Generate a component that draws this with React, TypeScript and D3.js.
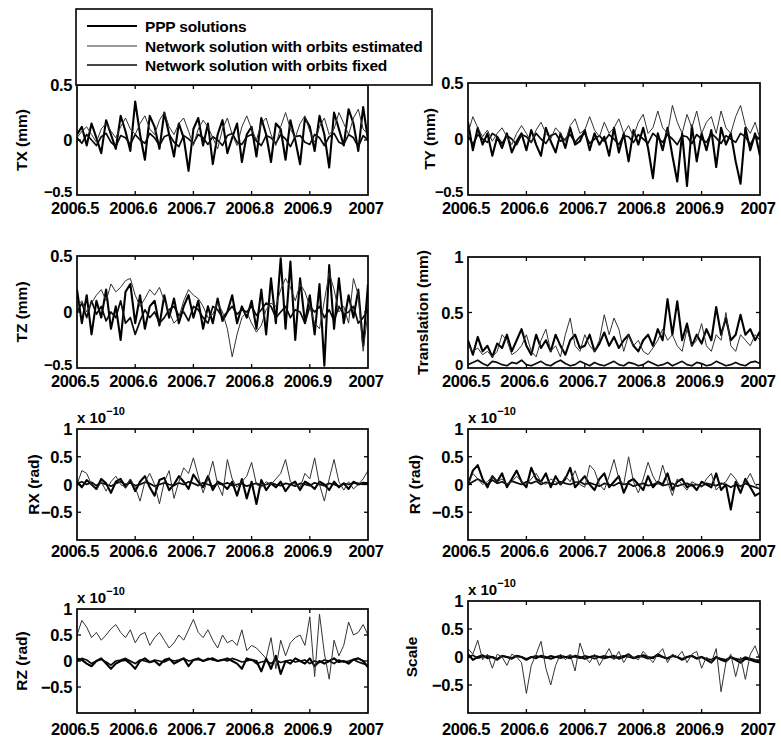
import React from 'react';
import * as d3 from 'd3';

// Epochs every 3 days over the second half of 2006
const N = 61;
const EPOCHS = d3.range(N).map((i) => 2006.5 + (i * 0.5) / (N - 1));

const X_TICKS = [2006.5, 2006.6, 2006.7, 2006.8, 2006.9, 2007];
const X_TICK_LABELS = ['2006.5', '2006.6', '2006.7', '2006.8', '2006.9', '2007'];

const SERIES_NAMES = [
  'PPP solutions',
  'Network solution with orbits estimated',
  'Network solution with orbits fixed',
];

// ---- Translation X (mm) ----
const TX_PPP = [
  0.05, 0.12, -0.05, 0.15, 0.02, -0.12, 0.18, 0.05, -0.08, 0.22,
  0.08, -0.1, 0.35, 0.05, -0.18, 0.22, 0.12, -0.08, 0.25, 0.05,
  -0.15, 0.15, 0.02, -0.28, 0.1, 0.2, -0.05, 0.15, -0.22, 0.05,
  0.18, -0.12, 0.02, 0.15, -0.2, 0.05, 0.12, -0.15, 0.2, 0.05,
  -0.2, 0.15, 0.1, -0.18, 0.18, 0.0, -0.22, 0.2, 0.12, -0.1,
  0.22, 0.05, -0.25, 0.25, 0.1, -0.05, 0.28, 0.15, -0.1, 0.3,
  0.0,
];
const TX_EST = [
  0.02, 0.08, 0.12, 0.05, -0.02, 0.1, 0.15, 0.08, 0.02, 0.12,
  0.2, 0.1, 0.05, 0.15, 0.22, 0.1, 0.05, 0.18, 0.25, 0.12,
  0.05, 0.15, 0.2, 0.08, -0.05, 0.1, 0.18, 0.12, 0.02, -0.08,
  0.1, 0.2, 0.05, -0.05, 0.12, 0.22, 0.1, 0.0, 0.15, 0.2,
  0.05, -0.05, 0.12, 0.25, 0.1, 0.02, 0.15, 0.22, 0.08, -0.02,
  0.12, 0.2, 0.05, 0.1, 0.25, 0.15, 0.05, 0.2, 0.28, 0.1,
  0.05,
];
const TX_FIX = [
  0.02, -0.03, 0.05, 0.0, -0.05, 0.03, 0.06, -0.02, -0.06, 0.04,
  0.02, -0.04, 0.05, 0.0, -0.03, 0.06, 0.02, -0.05, 0.03, 0.05,
  -0.02, -0.06, 0.04, 0.01, -0.03, 0.05, 0.02, -0.04, 0.03, 0.0,
  -0.05, 0.04, 0.06, -0.02, -0.04, 0.03, 0.05, -0.01, -0.05, 0.04,
  0.02, -0.03, 0.05, 0.01, -0.06, 0.03, 0.04, -0.02, -0.04, 0.05,
  0.02, -0.05, 0.03, 0.06, -0.02, -0.04, 0.05, 0.02, -0.06, 0.04,
  0.0,
];

// ---- Translation Y (mm) ----
const TY_PPP = [
  0.15, -0.1, 0.1, -0.05, 0.05, -0.15, 0.02, -0.08, 0.05, -0.12,
  -0.02, 0.05, -0.1, 0.08, -0.05, -0.15, 0.1, -0.02, -0.12, 0.05,
  -0.08, 0.1, -0.05, -0.02, 0.08, -0.1, 0.05, -0.05, 0.02, -0.15,
  0.1, -0.12, 0.05, -0.2, 0.08, -0.05, 0.1, -0.08, -0.35, 0.05,
  -0.1, 0.1, -0.15, -0.38, 0.05, -0.42, 0.12, -0.2, 0.05, -0.1,
  0.08, -0.25, 0.1, -0.05, 0.05, -0.2, -0.4, 0.1, -0.1, 0.05,
  -0.15,
];
const TY_EST = [
  0.05, 0.2, 0.1, 0.02, 0.08, -0.02, 0.05, 0.1, 0.02, -0.05,
  0.05, 0.12, 0.05, -0.03, 0.08, 0.15, 0.05, 0.0, 0.1, 0.05,
  -0.02, 0.12, 0.18, 0.05, 0.08, 0.2, 0.08, 0.02, 0.15, 0.05,
  0.1, 0.18, 0.05, 0.12, 0.02, 0.15, 0.22, 0.05, 0.1, 0.25,
  0.1, 0.05, 0.3, 0.15, 0.05, 0.22, 0.1, 0.25, 0.05, 0.15,
  0.2, 0.05, 0.25, 0.1, 0.05, 0.2, 0.3, 0.12, 0.05, 0.15,
  0.0,
];
const TY_FIX = [
  0.03, -0.05, 0.04, 0.0, -0.03, 0.05, 0.02, -0.04, 0.03, 0.0,
  -0.05, 0.04, 0.02, -0.03, 0.05, 0.0, -0.04, 0.03, 0.05, -0.02,
  0.0, 0.04, -0.03, 0.02, 0.05, -0.04, 0.0, 0.03, -0.02, 0.04,
  0.0, -0.05, 0.03, 0.02, -0.03, 0.04, 0.0, -0.04, 0.05, 0.01,
  -0.03, 0.04, 0.0, -0.05, 0.03, 0.02, -0.04, 0.04, 0.0, -0.03,
  0.05, 0.01, -0.04, 0.03, 0.0, -0.03, 0.05, 0.02, -0.05, 0.03,
  0.0,
];

// ---- Translation Z (mm) ----
const TZ_PPP = [
  0.2, -0.1, 0.15, -0.2, 0.1, -0.05, 0.2, -0.15, 0.05, -0.25,
  0.18, 0.25, -0.1, 0.15, -0.15, 0.05, 0.1, -0.12, 0.15, -0.05,
  0.12, -0.1, 0.05, 0.15, -0.05, 0.1, -0.15, 0.05, -0.1, 0.12,
  -0.08, 0.0, 0.15, -0.1, 0.05, -0.05, 0.1, -0.15, 0.2, -0.2,
  0.3, -0.1, 0.48, -0.15, 0.45, -0.25, 0.3, -0.1, 0.15, -0.2,
  0.25, -0.48, 0.42, -0.15, 0.3, -0.1, 0.15, -0.05, 0.2, -0.3,
  0.25,
];
const TZ_EST = [
  0.05, 0.1, 0.0, 0.08, 0.15, 0.2, 0.1, 0.25, 0.18, 0.22,
  0.28, 0.3, 0.15, 0.05, 0.12, 0.2, 0.15, 0.22, 0.1, 0.0,
  -0.1, -0.05, 0.1, 0.2, 0.15, 0.12, 0.05, -0.05, -0.02, 0.08,
  0.0, -0.15, -0.4, -0.2, -0.05, 0.0, -0.1, -0.18, -0.12, 0.02,
  0.08, 0.05, 0.2, 0.3, 0.22, 0.1, 0.25, 0.18, 0.05, -0.1,
  -0.15, 0.1, 0.35, 0.2, 0.0, 0.05, -0.1, 0.3, 0.15, -0.35,
  0.0,
];
const TZ_FIX = [
  0.0, 0.08, -0.05, 0.1, -0.02, 0.05, -0.08, 0.0, -0.05, 0.1,
  -0.1, -0.05, -0.2, -0.08, 0.02, -0.05, 0.0, -0.1, -0.05, 0.02,
  0.05, -0.03, 0.0, -0.08, 0.05, 0.02, -0.05, -0.1, 0.05, 0.02,
  -0.05, 0.0, 0.05, -0.02, 0.02, 0.0, 0.05, -0.03, 0.02, 0.08,
  0.05, -0.05, 0.0, 0.05, -0.05, 0.02, 0.0, -0.1, 0.05, 0.0,
  0.05, -0.05, 0.02, -0.08, 0.05, -0.02, 0.0, 0.05, -0.1, -0.05,
  0.02,
];

// ---- Total translation (mm) ----
const TR_PPP = [
  0.25, 0.12, 0.28, 0.15, 0.2, 0.1, 0.22, 0.18, 0.3, 0.15,
  0.25, 0.35, 0.2, 0.12, 0.3, 0.18, 0.25, 0.15, 0.3, 0.2,
  0.12, 0.25, 0.3, 0.18, 0.2, 0.3, 0.15, 0.22, 0.32, 0.2,
  0.28, 0.18, 0.25, 0.3, 0.2, 0.15, 0.25, 0.3, 0.2, 0.35,
  0.25, 0.62, 0.3, 0.6, 0.25, 0.4, 0.2, 0.3, 0.22, 0.35,
  0.25, 0.55, 0.3, 0.45, 0.25, 0.3, 0.48, 0.3, 0.35, 0.25,
  0.33,
];
const TR_EST = [
  0.2, 0.15, 0.18, 0.12, 0.15, 0.1, 0.15, 0.3, 0.25, 0.12,
  0.15, 0.2, 0.3, 0.15, 0.1, 0.25, 0.35, 0.15, 0.2, 0.1,
  0.3, 0.45, 0.2, 0.15, 0.3, 0.2, 0.15, 0.25, 0.48, 0.3,
  0.45, 0.35, 0.15, 0.3, 0.2, 0.25, 0.15, 0.12, 0.18, 0.25,
  0.35, 0.25, 0.3, 0.2, 0.15, 0.35, 0.2, 0.25, 0.4, 0.2,
  0.15, 0.3, 0.25, 0.5, 0.2, 0.15, 0.3, 0.25, 0.2, 0.3,
  0.25,
];
const TR_FIX = [
  0.03, 0.05, 0.07, 0.04, 0.02, 0.06, 0.05, 0.03, 0.02, 0.05,
  0.04, 0.07, 0.03, 0.02, 0.04, 0.06, 0.03, 0.02, 0.05, 0.07,
  0.04, 0.02, 0.03, 0.06, 0.04, 0.02, 0.05, 0.03, 0.02, 0.04,
  0.06, 0.03, 0.02, 0.05, 0.04, 0.02, 0.03, 0.06, 0.04, 0.02,
  0.03, 0.05, 0.02, 0.04, 0.06, 0.03, 0.02, 0.05, 0.04, 0.02,
  0.03, 0.06, 0.04, 0.02, 0.03, 0.05, 0.03, 0.02, 0.05, 0.06,
  0.04,
];

// ---- Rotation X (1e-10 rad) ----
const RX_PPP = [
  0.05, -0.05, 0.08, 0.0, -0.08, 0.1, 0.02, -0.15, 0.05, 0.1,
  -0.05, 0.08, -0.12, 0.05, 0.15, -0.05, -0.2, 0.08, 0.12, -0.1,
  0.0, 0.15, 0.05, -0.08, 0.18, 0.05, -0.05, 0.15, -0.1, 0.05,
  0.0, -0.08, 0.05, -0.2, 0.1, -0.25, 0.05, -0.35, 0.08, -0.1,
  0.02, -0.05, 0.05, -0.12, 0.0, 0.05, -0.1, 0.05, 0.0, -0.08,
  0.05, 0.0, -0.1, 0.05, -0.05, 0.02, -0.08, 0.05, 0.0, 0.03,
  0.02,
];
const RX_EST = [
  0.0, 0.25, 0.2, 0.0, -0.1, 0.05, -0.12, 0.05, 0.15, 0.0,
  -0.05, 0.1, -0.05, -0.3, 0.05, 0.2, 0.0, -0.35, 0.05, 0.25,
  -0.25, 0.05, 0.3, 0.2, 0.48, 0.15, -0.15, 0.1, 0.42, 0.0,
  -0.2, 0.45, 0.1, -0.05, 0.05, 0.15, 0.4, 0.0, -0.05, 0.05,
  0.0, 0.1, 0.2, 0.45, 0.05, 0.0, -0.05, 0.2, 0.1, 0.48,
  0.0, -0.3, 0.1, 0.45, 0.05, -0.1, 0.05, -0.08, 0.0, 0.1,
  0.25,
];
const RX_FIX = [
  0.02, 0.05, 0.0, 0.04, -0.02, 0.03, 0.0, -0.03, 0.02, 0.05,
  0.0, 0.03, -0.02, 0.0, 0.04, 0.02, -0.03, 0.0, 0.03, 0.0,
  -0.02, 0.03, 0.0, 0.05, 0.02, -0.02, 0.03, 0.0, -0.03, 0.02,
  0.0, 0.03, -0.02, 0.0, 0.02, -0.03, 0.0, 0.02, -0.02, 0.0,
  0.03, 0.0, -0.02, 0.02, 0.0, -0.03, 0.02, 0.0, -0.02, 0.03,
  0.0, -0.02, 0.02, 0.0, -0.03, 0.02, 0.0, 0.03, 0.02, 0.0,
  0.03,
];

// ---- Rotation Y (1e-10 rad) ----
const RY_PPP = [
  0.0, 0.25, 0.35, 0.1, -0.05, 0.15, 0.05, 0.2, -0.05, 0.1,
  0.25, 0.05, -0.05, 0.3, 0.1, 0.05, 0.2, -0.05, 0.15, 0.0,
  0.1, 0.3, -0.05, 0.05, 0.15, 0.0, -0.1, 0.1, 0.2, -0.05,
  0.05, 0.15, -0.15, 0.05, 0.1, 0.0, -0.1, 0.15, -0.05, 0.05,
  0.0, 0.2, -0.1, 0.05, 0.1, -0.05, 0.0, -0.1, 0.05, 0.0,
  -0.05, 0.2, -0.1, 0.0, -0.45, 0.05, -0.15, 0.1, -0.05, -0.2,
  -0.15,
];
const RY_EST = [
  0.0, 0.2, 0.1, 0.0, 0.05, 0.15, 0.05, 0.1, 0.0, 0.05,
  0.15, 0.05, 0.0, 0.1, 0.2, 0.05, 0.0, 0.1, 0.05, 0.0,
  0.15, 0.05, 0.25, 0.0, -0.05, 0.35, 0.25, 0.0, -0.1, 0.15,
  0.45, 0.1, 0.0, 0.5, 0.05, -0.15, 0.1, 0.4, 0.15, 0.0,
  0.35, 0.05, -0.2, 0.1, 0.0, -0.1, 0.05, 0.0, -0.05, 0.1,
  0.2, -0.1, 0.0, 0.05, 0.2, 0.1, -0.05, 0.05, 0.2, 0.0,
  -0.1,
];
const RY_FIX = [
  0.0, 0.05, 0.1, 0.05, 0.0, 0.08, 0.02, 0.05, 0.0, 0.06,
  0.03, 0.0, 0.05, 0.02, 0.06, 0.0, 0.04, 0.02, 0.0, 0.05,
  0.02, 0.0, 0.04, 0.05, 0.0, 0.03, 0.0, -0.03, 0.02, 0.0,
  -0.02, 0.03, 0.0, 0.02, -0.03, 0.0, 0.02, -0.02, 0.0, 0.03,
  -0.02, 0.0, 0.02, -0.03, 0.0, 0.02, -0.02, 0.0, -0.03, 0.02,
  0.0, -0.02, 0.02, 0.0, -0.05, 0.0, -0.03, 0.02, -0.02, -0.05,
  -0.08,
];

// ---- Rotation Z (1e-10 rad) ----
const RZ_PPP = [
  0.05, 0.02, -0.05, -0.1, 0.0, 0.05, -0.05, -0.15, -0.05, 0.0,
  0.02, -0.05, -0.15, 0.0, 0.05, -0.02, 0.0, -0.08, 0.02, 0.05,
  -0.05, 0.0, 0.05, -0.1, 0.02, 0.05, 0.0, 0.03, 0.05, 0.0,
  0.02, 0.05, 0.0, -0.05, -0.15, 0.05, 0.02, 0.0, -0.2, 0.05,
  -0.15, 0.1, -0.25, 0.0, -0.05, 0.05, 0.0, -0.05, 0.05, -0.1,
  0.0, -0.05, 0.0, 0.05, -0.02, 0.0, -0.05, 0.03, 0.05, 0.0,
  -0.12,
];
const RZ_EST = [
  0.5, 0.78, 0.65, 0.45, 0.55, 0.4, 0.5, 0.62, 0.7, 0.55,
  0.45, 0.6, 0.35, 0.5, 0.55, 0.3, 0.45, 0.55, 0.4, 0.25,
  0.35, 0.5, 0.4, 0.6, 0.8, 0.55, 0.45, 0.6, 0.4, 0.25,
  0.5, 0.35, 0.4, 0.3, 0.6, 0.2, 0.3, 0.25, 0.15, 0.05,
  0.45, -0.15, 0.4, 0.1, 0.35, 0.45, 0.5, 0.3, 0.85, -0.3,
  0.9, 0.15, -0.35, 0.4, 0.1, 0.3, 0.75, 0.5, 0.55, 0.7,
  0.5,
];
const RZ_FIX = [
  0.0, 0.05, 0.02, -0.05, 0.0, 0.03, -0.02, -0.08, 0.0, 0.02,
  0.05, 0.0, -0.05, 0.02, 0.0, -0.03, 0.02, 0.0, -0.02, 0.03,
  0.0, 0.02, 0.05, 0.0, 0.02, 0.03, 0.0, 0.05, 0.02, 0.0,
  0.03, 0.0, 0.05, 0.02, -0.02, 0.0, 0.03, -0.05, -0.02, 0.0,
  -0.05, 0.02, -0.03, 0.0, 0.02, -0.02, 0.0, 0.02, -0.05, 0.0,
  -0.03, 0.02, 0.0, -0.05, 0.02, -0.02, 0.0, 0.03, -0.02, -0.05,
  -0.08,
];

// ---- Scale (1e-10) ----
const SC_PPP = [
  0.05, -0.05, 0.0, 0.03, -0.02, 0.0, -0.05, 0.02, 0.0, -0.03,
  0.02, 0.0, -0.05, 0.0, -0.02, 0.02, 0.0, -0.03, 0.0, 0.02,
  0.0, -0.02, 0.02, 0.0, -0.03, 0.0, 0.02, 0.0, -0.02, 0.0,
  0.02, -0.03, 0.0, 0.05, -0.02, 0.0, 0.03, 0.0, -0.02, 0.05,
  0.0, -0.03, 0.02, 0.0, -0.05, 0.0, 0.02, -0.03, 0.0, -0.05,
  -0.1, 0.0, -0.05, -0.08, 0.0, -0.05, -0.1, -0.03, -0.05, -0.08,
  -0.1,
];
const SC_EST = [
  0.15, 0.05, 0.3, -0.05, 0.05, -0.2, 0.05, 0.0, -0.15, 0.05,
  0.0, -0.1, -0.65, -0.15, 0.05, 0.28, -0.2, -0.5, -0.15, 0.05,
  -0.05, 0.05, -0.25, 0.25, 0.0, -0.1, 0.05, -0.15, 0.0, 0.15,
  -0.05, 0.1, -0.1, 0.05, 0.0, -0.05, 0.1, 0.0, -0.1, 0.05,
  0.15, -0.1, 0.05, 0.0, 0.1, -0.1, 0.05, 0.1, -0.2, 0.0,
  -0.1, 0.15, -0.62, -0.1, 0.05, -0.35, 0.0, -0.4, 0.05, 0.2,
  -0.05,
];
const SC_FIX = [
  0.0, 0.03, -0.02, 0.0, 0.02, 0.0, -0.03, 0.02, 0.0, -0.02,
  0.02, 0.0, -0.03, 0.0, 0.02, 0.0, -0.02, 0.02, 0.0, -0.02,
  0.0, 0.02, 0.0, -0.02, 0.02, 0.0, -0.03, 0.0, 0.02, 0.0,
  -0.02, 0.0, 0.02, 0.0, -0.02, 0.02, 0.0, -0.03, 0.0, 0.02,
  0.0, -0.02, 0.02, 0.0, -0.03, 0.0, 0.02, -0.02, 0.0, -0.03,
  -0.05, 0.0, -0.03, -0.05, 0.0, -0.03, -0.05, 0.0, -0.03, -0.05,
  -0.06,
];

const MM_TICKS = [-0.5, 0, 0.5];
const TRANS_TICKS = [0, 0.5, 1];
const ROT_TICKS = [-0.5, 0, 0.5, 1];

const FONT = '"Liberation Sans", Arial, Helvetica, sans-serif';

// line styles for the three solution types (PPP, orbits estimated, orbits fixed)
const LINE_STYLES = [
  { stroke: '#000', width: 2.1 },
  { stroke: '#333', width: 1.0 },
  { stroke: '#0a0a0a', width: 1.7 },
];
const DRAW_ORDER = [0, 2, 1];

const COLS = [
  { x0: 77, x1: 368 },
  { x0: 468, x1: 760 },
];

type Panel = {
  id: string;
  ylabel: string;
  series: number[][];
  yDomain: [number, number];
  ticks: number[];
  col: number;
  top: number;
  bottom: number;
  ylabelX: number;
  xLabelY: number;
  exponent: boolean;
};

const PANELS: Panel[] = [
  { id: 'tx', ylabel: 'TX (mm)', series: [TX_PPP, TX_EST, TX_FIX], yDomain: [-0.5, 0.5], ticks: MM_TICKS, col: 0, top: 85, bottom: 195, ylabelX: 21, xLabelY: 214, exponent: false },
  { id: 'ty', ylabel: 'TY (mm)', series: [TY_PPP, TY_EST, TY_FIX], yDomain: [-0.5, 0.5], ticks: MM_TICKS, col: 1, top: 83, bottom: 195, ylabelX: 429, xLabelY: 214, exponent: false },
  { id: 'tz', ylabel: 'TZ (mm)', series: [TZ_PPP, TZ_EST, TZ_FIX], yDomain: [-0.5, 0.5], ticks: MM_TICKS, col: 0, top: 256, bottom: 368, ylabelX: 21, xLabelY: 387, exponent: false },
  { id: 'tr', ylabel: 'Translation (mm)', series: [TR_PPP, TR_EST, TR_FIX], yDomain: [0, 1], ticks: TRANS_TICKS, col: 1, top: 257, bottom: 368, ylabelX: 422, xLabelY: 387, exponent: false },
  { id: 'rx', ylabel: 'RX (rad)', series: [RX_PPP, RX_EST, RX_FIX], yDomain: [-1, 1], ticks: ROT_TICKS, col: 0, top: 429, bottom: 540, ylabelX: 33, xLabelY: 557, exponent: true },
  { id: 'ry', ylabel: 'RY (rad)', series: [RY_PPP, RY_EST, RY_FIX], yDomain: [-1, 1], ticks: ROT_TICKS, col: 1, top: 429, bottom: 540, ylabelX: 414, xLabelY: 557, exponent: true },
  { id: 'rz', ylabel: 'RZ (rad)', series: [RZ_PPP, RZ_EST, RZ_FIX], yDomain: [-1, 1], ticks: ROT_TICKS, col: 0, top: 609, bottom: 713, ylabelX: 21, xLabelY: 735, exponent: true },
  { id: 'sc', ylabel: 'Scale', series: [SC_PPP, SC_EST, SC_FIX], yDomain: [-1, 1], ticks: ROT_TICKS, col: 1, top: 601, bottom: 713, ylabelX: 411, xLabelY: 735, exponent: true },
];

const fmt = (v: number) => (v < 0 ? '\u2212' + String(-v) : String(v));

function PanelView({ p }: { p: Panel }) {
  const { x0, x1 } = COLS[p.col];
  const x = d3.scaleLinear().domain([2006.5, 2007]).range([x0, x1]);
  const y = d3.scaleLinear().domain(p.yDomain).range([p.bottom, p.top]);
  const line = d3
    .line<number>()
    .x((_, i) => x(EPOCHS[i]))
    .y((d) => y(d));
  const tickLen = 4;
  const clipId = `clip-${p.id}`;
  const inner = X_TICKS.slice(1, -1);
  const innerY = p.ticks.filter((t) => t > p.yDomain[0] && t < p.yDomain[1]);
  return (
    <g>
      <defs>
        <clipPath id={clipId}>
          <rect x={x0} y={p.top} width={x1 - x0} height={p.bottom - p.top} />
        </clipPath>
      </defs>
      <g clipPath={`url(#${clipId})`}>
        {DRAW_ORDER.map((k) => (
          <path
            key={k}
            d={line(p.series[k]) || ''}
            fill="none"
            stroke={LINE_STYLES[k].stroke}
            strokeWidth={LINE_STYLES[k].width}
            strokeLinejoin="round"
          />
        ))}
      </g>
      {/* inward ticks on all four sides */}
      {inner.map((t) => (
        <g key={'xt' + t}>
          <line x1={x(t)} x2={x(t)} y1={p.bottom} y2={p.bottom - tickLen} stroke="#000" strokeWidth={1.3} />
          <line x1={x(t)} x2={x(t)} y1={p.top} y2={p.top + tickLen} stroke="#000" strokeWidth={1.3} />
        </g>
      ))}
      {innerY.map((t) => (
        <g key={'yt' + t}>
          <line x1={x0} x2={x0 + tickLen} y1={y(t)} y2={y(t)} stroke="#000" strokeWidth={1.3} />
          <line x1={x1} x2={x1 - tickLen} y1={y(t)} y2={y(t)} stroke="#000" strokeWidth={1.3} />
        </g>
      ))}
      <rect x={x0} y={p.top} width={x1 - x0} height={p.bottom - p.top} fill="none" stroke="#000" strokeWidth={1.7} />
      {/* x tick labels */}
      {X_TICKS.map((t, i) => (
        <text
          key={'xl' + t}
          x={x(t) - 2}
          y={p.xLabelY}
          textAnchor="middle"
          fontFamily={FONT}
          fontWeight="bold"
          fontSize={16.5}
          letterSpacing={-0.4}
        >
          {X_TICK_LABELS[i]}
        </text>
      ))}
      {/* y tick labels; the lowest one sits just above the x labels */}
      {p.ticks.map((t) => {
        const atBottom = t === p.yDomain[0];
        return (
          <text
            key={'yl' + t}
            x={x0 - 5}
            y={y(t) - (atBottom ? 4 : 0)}
            textAnchor="end"
            dominantBaseline="central"
            fontFamily={FONT}
            fontWeight="bold"
            fontSize={atBottom ? 15 : 16.5}
            letterSpacing={-0.4}
          >
            {fmt(t)}
          </text>
        );
      })}
      {/* y axis label */}
      <text
        transform={`translate(${p.ylabelX},${(p.top + p.bottom) / 2}) rotate(-90)`}
        textAnchor="middle"
        dominantBaseline="central"
        fontFamily={FONT}
        fontWeight="bold"
        fontSize={15.5}
      >
        {p.ylabel}
      </text>
      {p.exponent && (
        <text x={x0} y={p.top - 6} fontFamily={FONT} fontWeight="bold" fontSize={15}>
          x 10
          <tspan dy={-8} fontSize={11}>
            −10
          </tspan>
        </text>
      )}
    </g>
  );
}

function Legend() {
  const left = 76;
  const top = 9;
  const right = 432;
  const bottom = 85;
  const rows = [26, 46, 65];
  return (
    <g>
      <rect x={left} y={top} width={right - left} height={bottom - top} fill="#fff" stroke="#000" strokeWidth={1.6} />
      {SERIES_NAMES.map((name, i) => (
        <g key={name}>
          <line
            x1={87}
            x2={137}
            y1={rows[i]}
            y2={rows[i]}
            stroke={LINE_STYLES[i].stroke}
            strokeWidth={LINE_STYLES[i].width}
          />
          <text
            x={145}
            y={rows[i]}
            dominantBaseline="central"
            fontFamily={FONT}
            fontWeight="bold"
            fontSize={15.5}
            letterSpacing={-0.2}
          >
            {name}
          </text>
        </g>
      ))}
    </g>
  );
}

export default function App() {
  return (
    <svg
      width={781}
      height={738}
      viewBox="0 0 781 738"
      style={{ position: 'absolute', left: 0, top: 0, background: '#fff' }}
    >
      <rect x={0} y={0} width={781} height={738} fill="#fff" />
      {PANELS.map((p) => (
        <PanelView key={p.id} p={p} />
      ))}
      <Legend />
    </svg>
  );
}
